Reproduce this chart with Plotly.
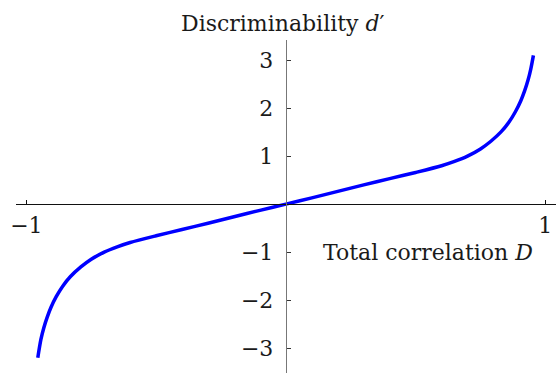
import plotly.graph_objects as go

# Data
D = [-0.956, -0.944, -0.933, -0.92, -0.905, -0.885, -0.86, -0.83, -0.79, -0.75,
     -0.7, -0.65, -0.6, -0.5, -0.4, -0.3, -0.2, -0.1, 0.0,
     0.1, 0.2, 0.3, 0.4, 0.5, 0.6, 0.65, 0.7, 0.75, 0.79, 0.83, 0.86, 0.885,
     0.905, 0.92, 0.933, 0.944, 0.954]
dprime = [-3.20, -2.82, -2.58, -2.36, -2.15, -1.93, -1.71, -1.51, -1.31, -1.15,
          -1.00, -0.89, -0.80, -0.66, -0.53, -0.40, -0.265, -0.13, 0.0,
          0.13, 0.265, 0.40, 0.53, 0.66, 0.80, 0.89, 1.00, 1.15, 1.31, 1.51, 1.71, 1.93,
          2.15, 2.36, 2.58, 2.82, 3.10]

x_tickvals = [-1, 1]
x_ticktext = ["\u22121", "1"]
y_tickvals = [-3, -2, -1, 1, 2, 3]
y_ticktext = ["\u22123", "\u22122", "\u22121", "1", "2", "3"]

title_text = "Discriminability <i>d</i>\u2032"
xlabel_text = "Total correlation <i>D</i>"

xr = [-1.04, 1.041]
yr = [-3.52, 3.42]

FONT = "DejaVu Serif"
FS = 22

fig = go.Figure()
fig.add_trace(go.Scatter(x=D, y=dprime, mode="lines",
                         line=dict(color="#0000FF", width=3.5, shape="spline", smoothing=0.8),
                         showlegend=False, hoverinfo="skip"))

fig.update_layout(
    width=556, height=373,
    margin=dict(l=16, r=0, t=40, b=0),
    paper_bgcolor="white", plot_bgcolor="white",
    font=dict(family=FONT, size=FS, color="black"),
    xaxis=dict(range=xr, showgrid=False, zeroline=False,
               anchor="free", position=(0 - yr[0]) / (yr[1] - yr[0]),
               showline=True, linecolor="#111", linewidth=1,
               ticks="inside", ticklen=4, tickcolor="#111", tickwidth=1,
               tickvals=x_tickvals, ticktext=x_ticktext,
               ticklabelstandoff=1,
               tickfont=dict(family=FONT, size=FS, color="#1a1a1a")),
    yaxis=dict(range=yr, showgrid=False, zeroline=False,
               anchor="free", position=(0 - xr[0]) / (xr[1] - xr[0]),
               showline=True, linecolor="#777", linewidth=1.2,
               ticks="inside", ticklen=4, tickcolor="#333", tickwidth=1,
               tickvals=y_tickvals, ticktext=y_ticktext,
               ticklabelstandoff=8,
               tickfont=dict(family=FONT, size=FS, color="#1a1a1a")),
)

fig.add_annotation(text=title_text, xref="x", x=-0.01, yref="paper", y=1,
                   xanchor="center", yanchor="bottom", yshift=2, showarrow=False,
                   font=dict(family=FONT, size=FS, color="#1a1a1a"))
fig.add_annotation(text=xlabel_text, xref="x", x=0.96, yref="y", y=-1.0,
                   xanchor="right", yanchor="middle", showarrow=False,
                   font=dict(family=FONT, size=FS, color="#1a1a1a"))

fig.write_html("out.html")
